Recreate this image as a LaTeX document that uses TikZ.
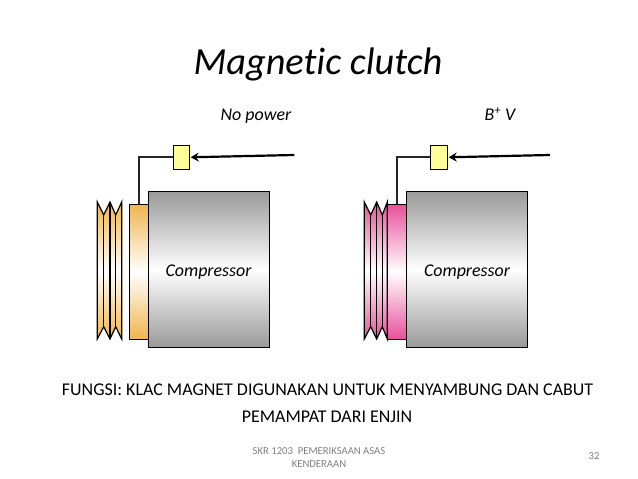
\documentclass[tikz,border=0pt]{standalone}
\usepackage{fontspec}
\setmainfont[RawFeature={-liga}]{Carlito}
\usetikzlibrary{arrows.meta}
\definecolor{orangeedge}{HTML}{EFB54F}
\definecolor{pinkedge}{HTML}{E8509A}
\definecolor{grayedge}{HTML}{9A9A9A}
\definecolor{boxfill}{HTML}{FFFF99}
\definecolor{footgray}{HTML}{808080}
\tikzset{
  x=1bp,y=-1bp,
  body/.style={draw=black,line width=1bp,rectangle,anchor=north west,inner sep=0pt,outer sep=0pt,
    top color=grayedge,bottom color=grayedge,middle color=white},
  clutch/.style={draw=black,line width=1bp,rectangle,anchor=north west,inner sep=0pt,outer sep=0pt,
    top color=#1,bottom color=#1,middle color=white},
  relay/.style={draw=black,line width=.8bp,fill=boxfill,rectangle,anchor=north west,inner sep=0pt,outer sep=0pt},
  wire/.style={draw=black!85,line width=2bp},
  feed/.style={draw=black,line width=2.2bp,shorten >=1bp,-{Stealth[length=8bp,width=9bp]}},
  label/.style={font=\fontsize{18}{21}\selectfont\itshape,inner sep=0pt,anchor=base},
  caption/.style={font=\fontsize{18}{21}\selectfont,inner sep=0pt,anchor=base},
  foot/.style={font=\fontsize{10.7}{13}\selectfont,text=footgray,inner sep=0pt,align=center},
}
\newcommand{\pulley}[6]{%
  \path[top color=#6,bottom color=#6,middle color=white]
    (#1,202)--(#2,215)--(#3,202)--(#4,215)--(#5,202)--(#5,339)--(#4,326.7)--(#3,339)--(#2,326.7)--(#1,339)--cycle;
  \draw[black,line width=1.2bp,line join=miter]
    (#1,202)--(#2,215)--(#3,202)--(#4,215)--(#5,202)--(#5,339)--(#4,326.7)--(#3,339)--(#2,326.7)--(#1,339)--cycle;
  \draw[black,line width=1.2bp] (#2,215)--(#2,326.7) (#3,202)--(#3,339) (#4,215)--(#4,326.7);
}
\begin{document}
\begin{tikzpicture}
\useasboundingbox (0,0) rectangle (638,479);
\node[font=\fontsize{38.5}{42}\selectfont\itshape,inner sep=0pt] (title) at (318,64.5) {Magnetic clutch};
\node[label] (nopower) at (256,121) {No power};
\node[label] (bplus) at (500,121) {B\textsuperscript{+} V};

% left unit
\pulley{97.3}{103.7}{110}{115.7}{121.7}{orangeedge}
\node[clutch=orangeedge,minimum width=19bp,minimum height=135bp] (clutchL) at (129.3,204.3) {};
\node[body,minimum width=121bp,minimum height=155.5bp] (compL) at (148.3,191.7) {};
\node[label] at (208.5,276) {Compressor};
\node[relay,minimum width=16.4bp,minimum height=24bp] (relayL) at (173.3,145.3) {};
\coordinate (feedL) at (294.3,155);
\draw[wire] (clutchL.north) |- (relayL.west);
\draw[feed] (feedL) -- (relayL.east);

% right unit
\pulley{364.3}{370.7}{376.7}{382.3}{387.3}{pinkedge}
\node[clutch=pinkedge,minimum width=19.4bp,minimum height=135bp] (clutchR) at (387.3,204.3) {};
\node[body,minimum width=120.6bp,minimum height=155.5bp] (compR) at (406.7,191.7) {};
\node[label] at (467,276) {Compressor};
\node[relay,minimum width=17.4bp,minimum height=24bp] (relayR) at (430.3,145.3) {};
\coordinate (feedR) at (550,155);
\draw[wire] (clutchR.north) |- (relayR.west);
\draw[feed] (feedR) -- (relayR.east);

\node[caption] (cap1) at (327.5,395) {FUNGSI: KLAC MAGNET DIGUNAKAN UNTUK MENYAMBUNG DAN CABUT};
\node[caption] (cap2) at (327,422) {PEMAMPAT DARI ENJIN};
\node[foot] (foot) at (319,457.5) {SKR 1203\ \ PEMERIKSAAN ASAS\\KENDERAAN};
\node[foot] (page) at (594,456) {32};
\end{tikzpicture}
\end{document}
